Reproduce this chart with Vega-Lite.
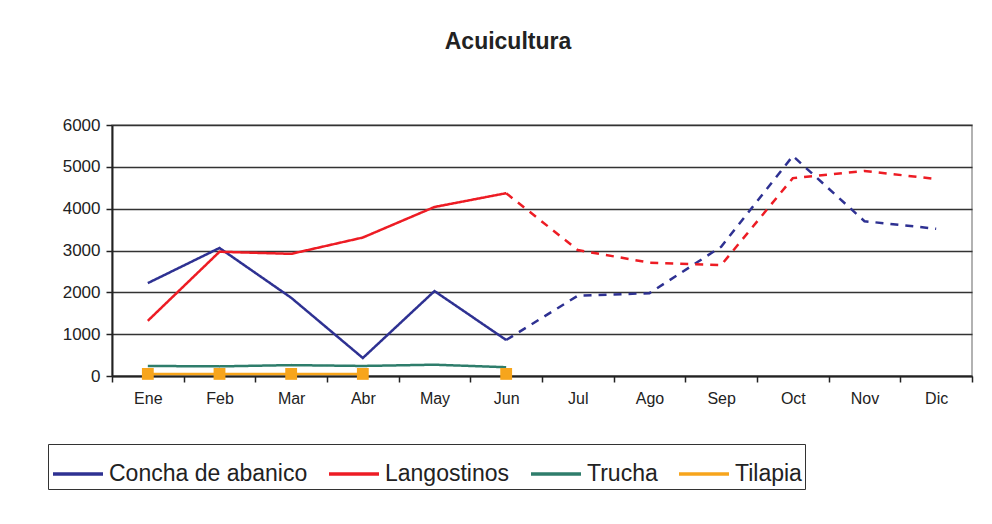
{
  "$schema": "https://vega.github.io/schema/vega-lite/v6.json",
  "autosize": "none",
  "width": 860,
  "height": 251,
  "padding": {"left": 112, "top": 125, "right": 20, "bottom": 148},
  "background": "white",
  "title": {"text": "Acuicultura", "fontSize": 23, "font": "Liberation Sans", "fontWeight": "bold", "color": "#222", "anchor": "middle", "dx": -34, "offset": 62},
  "config": {
    "view": {"stroke": "#999", "strokeWidth": 1.5},
    "font": "Liberation Sans"
  },
  "data": {"values": [
    {"serie": "Concha de abanico", "mes": "Ene", "valor": 2220, "tipo": "real", "tramo": "c1"},
    {"serie": "Concha de abanico", "mes": "Feb", "valor": 3060, "tipo": "real", "tramo": "c1"},
    {"serie": "Concha de abanico", "mes": "Mar", "valor": 1870, "tipo": "real", "tramo": "c1"},
    {"serie": "Concha de abanico", "mes": "Abr", "valor": 430, "tipo": "real", "tramo": "c1"},
    {"serie": "Concha de abanico", "mes": "May", "valor": 2030, "tipo": "real", "tramo": "c1"},
    {"serie": "Concha de abanico", "mes": "Jun", "valor": 860, "tipo": "real", "tramo": "c1"},
    {"serie": "Concha de abanico", "mes": "Jun", "valor": 860, "tipo": "proy", "tramo": "c2"},
    {"serie": "Concha de abanico", "mes": "Jul", "valor": 1920, "tipo": "proy", "tramo": "c2"},
    {"serie": "Concha de abanico", "mes": "Ago", "valor": 1980, "tipo": "proy", "tramo": "c2"},
    {"serie": "Concha de abanico", "mes": "Sep", "valor": 3090, "tipo": "proy", "tramo": "c2"},
    {"serie": "Concha de abanico", "mes": "Oct", "valor": 5260, "tipo": "proy", "tramo": "c2"},
    {"serie": "Concha de abanico", "mes": "Nov", "valor": 3700, "tipo": "proy", "tramo": "c2"},
    {"serie": "Concha de abanico", "mes": "Dic", "valor": 3520, "tipo": "proy", "tramo": "c2"},
    {"serie": "Langostinos", "mes": "Ene", "valor": 1320, "tipo": "real", "tramo": "l1"},
    {"serie": "Langostinos", "mes": "Feb", "valor": 2970, "tipo": "real", "tramo": "l1"},
    {"serie": "Langostinos", "mes": "Mar", "valor": 2920, "tipo": "real", "tramo": "l1"},
    {"serie": "Langostinos", "mes": "Abr", "valor": 3310, "tipo": "real", "tramo": "l1"},
    {"serie": "Langostinos", "mes": "May", "valor": 4040, "tipo": "real", "tramo": "l1"},
    {"serie": "Langostinos", "mes": "Jun", "valor": 4370, "tipo": "real", "tramo": "l1"},
    {"serie": "Langostinos", "mes": "Jun", "valor": 4370, "tipo": "proy", "tramo": "l2"},
    {"serie": "Langostinos", "mes": "Jul", "valor": 3010, "tipo": "proy", "tramo": "l2"},
    {"serie": "Langostinos", "mes": "Ago", "valor": 2710, "tipo": "proy", "tramo": "l2"},
    {"serie": "Langostinos", "mes": "Sep", "valor": 2650, "tipo": "proy", "tramo": "l2"},
    {"serie": "Langostinos", "mes": "Oct", "valor": 4730, "tipo": "proy", "tramo": "l2"},
    {"serie": "Langostinos", "mes": "Nov", "valor": 4900, "tipo": "proy", "tramo": "l2"},
    {"serie": "Langostinos", "mes": "Dic", "valor": 4710, "tipo": "proy", "tramo": "l2"},
    {"serie": "Trucha", "mes": "Ene", "valor": 240, "tipo": "real", "tramo": "t1"},
    {"serie": "Trucha", "mes": "Feb", "valor": 230, "tipo": "real", "tramo": "t1"},
    {"serie": "Trucha", "mes": "Mar", "valor": 260, "tipo": "real", "tramo": "t1"},
    {"serie": "Trucha", "mes": "Abr", "valor": 240, "tipo": "real", "tramo": "t1"},
    {"serie": "Trucha", "mes": "May", "valor": 270, "tipo": "real", "tramo": "t1"},
    {"serie": "Trucha", "mes": "Jun", "valor": 210, "tipo": "real", "tramo": "t1"},
    {"serie": "Tilapia", "mes": "Ene", "valor": 50, "tipo": "real", "tramo": "p1"},
    {"serie": "Tilapia", "mes": "Feb", "valor": 50, "tipo": "real", "tramo": "p1"},
    {"serie": "Tilapia", "mes": "Mar", "valor": 50, "tipo": "real", "tramo": "p1"},
    {"serie": "Tilapia", "mes": "Abr", "valor": 50, "tipo": "real", "tramo": "p1"},
    {"serie": "Tilapia", "mes": "Jun", "valor": 50, "tipo": "real", "tramo": "p2"}
  ]},
  "encoding": {
    "x": {
      "field": "mes", "type": "ordinal", "bandPosition": 0.5,
      "sort": ["Ene","Feb","Mar","Abr","May","Jun","Jul","Ago","Sep","Oct","Nov","Dic"],
      "scale": {"type": "band", "domain": ["Ene","Feb","Mar","Abr","May","Jun","Jul","Ago","Sep","Oct","Nov","Dic"], "paddingInner": 0, "paddingOuter": 0},
      "axis": {"title": null, "labelAngle": 0, "labelFontSize": 16, "labelColor": "#222", "tickBand": "extent", "tickColor": "#222", "tickSize": 6, "tickWidth": 1.5, "domainColor": "#222", "domainWidth": 2, "labelPadding": 8, "grid": false}
    },
    "y": {
      "field": "valor", "type": "quantitative",
      "scale": {"domain": [0, 6000], "nice": false},
      "axis": {"title": null, "values": [0,1000,2000,3000,4000,5000,6000], "format": "d", "labelFontSize": 17, "labelColor": "#222", "tickColor": "#222", "tickSize": 6, "tickWidth": 1.5, "domainColor": "#222", "domainWidth": 2, "gridColor": "#333", "gridWidth": 1.5, "labelPadding": 6}
    },
    "color": {
      "field": "serie", "type": "nominal",
      "scale": {"domain": ["Concha de abanico","Langostinos","Trucha","Tilapia"], "range": ["#2E3192","#ED1C24","#2E7D6B","#F7A51C"]},
      "legend": {"title": null, "orient": "none", "legendX": -64, "legendY": 319, "direction": "horizontal", "columns": 4, "symbolType": "stroke", "symbolStrokeWidth": 3.5, "symbolSize": 2500, "labelFontSize": 23, "labelLimit": 0, "labelColor": "#222", "strokeColor": "#333", "padding": 3, "columnPadding": 14, "labelOffset": 4}
    }
  },
  "layer": [
    {
      "mark": {"type": "line", "strokeWidth": 2.5},
      "encoding": {
        "detail": {"field": "tramo"},
        "strokeDash": {"field": "tipo", "type": "nominal", "scale": {"domain": ["real","proy"], "range": [[1,0],[8,7]]}, "legend": null}
      }
    },
    {
      "transform": [{"filter": "datum.serie == 'Tilapia'"}],
      "mark": {"type": "point", "shape": "square", "filled": true, "size": 140, "opacity": 1},
      "encoding": {}
    }
  ]
}
